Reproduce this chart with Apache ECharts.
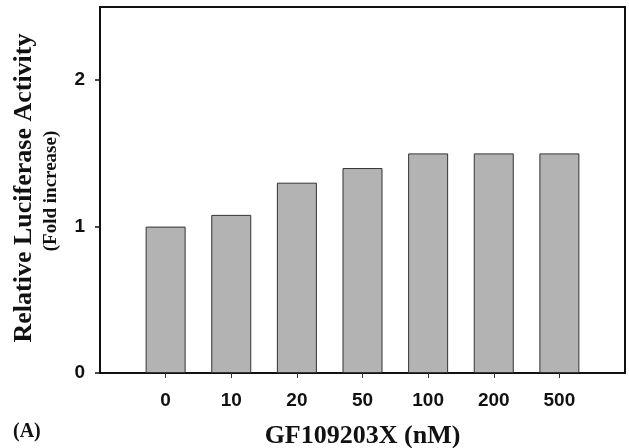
<!DOCTYPE html>
<html>
<head>
<meta charset="utf-8">
<script src="https://cdn.jsdelivr.net/npm/echarts@6/dist/echarts.min.js"></script>
<style>
  html, body { margin: 0; padding: 0; background: #fff; }
  #chart { width: 629px; height: 448px; }
</style>
</head>
<body>
<div id="chart"></div>
<script>
// GF109203X concentrations (nM) and relative luciferase activity
const doses = ['0', '10', '20', '50', '100', '200', '500'];
const activity = [1.0, 1.08, 1.3, 1.4, 1.5, 1.5, 1.5];
const yTicks = [0, 1, 2];

// empty slots on both ends leave the gap seen at the frame edges
const axisCats = [''].concat(doses, ['']);
const barData = [null].concat(activity, [null]);

const chart = echarts.init(document.getElementById('chart'));

const option = {
    animation: false,
    grid: {
        left: 100, right: 4, top: 7, bottom: 75,
        outerBoundsMode: 'none',
        containLabel: false,
        show: true,
        borderColor: '#111',
        borderWidth: 2,
    },
    xAxis: {
        type: 'category',
        data: axisCats,
        boundaryGap: false,
        name: 'GF109203X (nM)',
        nameLocation: 'middle',
        nameGap: 50,
        nameTextStyle: {
            fontFamily: 'Liberation Serif', fontWeight: 'bold', fontSize: 26, color: '#111',
        },
        axisLine: { lineStyle: { color: '#111', width: 2 } },
        axisTick: {
            inside: false, length: 5,
            interval: (i, v) => v !== '',
            lineStyle: { color: '#333', width: 1 },
        },
        axisLabel: {
            interval: (i, v) => v !== '',
            margin: 18,
            fontFamily: 'Liberation Sans', fontWeight: 'bold', fontSize: 19, color: '#111',
        },
        splitLine: { show: false },
    },
    yAxis: {
        type: 'value',
        min: 0,
        max: 2.5,
        interval: 1,
        axisLine: { show: true, lineStyle: { color: '#111', width: 2 } },
        axisTick: {
            show: true, length: 5, customValues: yTicks,
            lineStyle: { color: '#111', width: 1.5 },
        },
        axisLabel: {
            customValues: yTicks,
            margin: 15,
            fontFamily: 'Liberation Sans', fontWeight: 'bold', fontSize: 19, color: '#111',
        },
        splitLine: { show: false },
    },
    series: [{
        type: 'bar',
        data: barData,
        barWidth: 40,
        itemStyle: { color: '#b3b3b3', borderColor: '#333', borderWidth: 1 },
    }],
    graphic: [
        {
            type: 'text', x: 24, y: 188, rotation: Math.PI / 2,
            style: {
                text: 'Relative Luciferase Activity',
                font: 'bold 26px "Liberation Serif"', fill: '#111',
                align: 'center', verticalAlign: 'middle',
            },
        },
        {
            type: 'text', x: 51, y: 191, rotation: Math.PI / 2,
            style: {
                text: '(Fold increase)',
                font: 'bold 19px "Liberation Serif"', fill: '#111',
                align: 'center', verticalAlign: 'middle',
            },
        },
        {
            type: 'text', x: 13, y: 432,
            style: {
                text: '(A)',
                font: 'bold 20px "Liberation Serif"', fill: '#111',
                align: 'left', verticalAlign: 'middle',
            },
        },
    ],
};

chart.setOption(option);
</script>
</body>
</html>
